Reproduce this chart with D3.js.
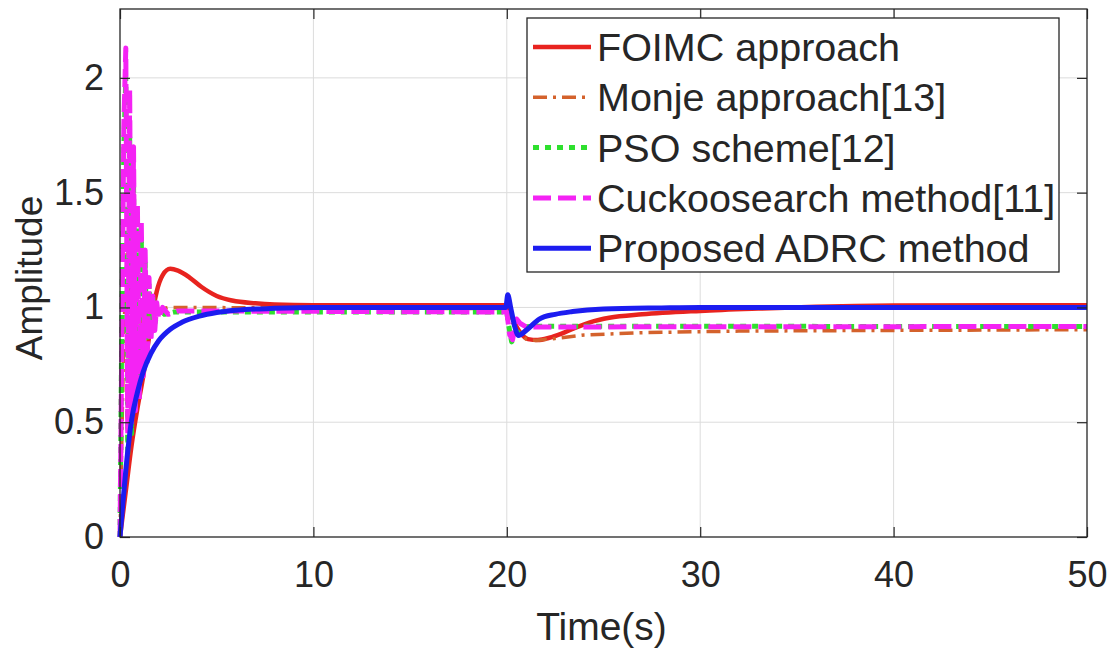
<html>
<script src='https://d3js.org/d3.v7.min.js'></script>
<body style="margin:0;background:#fff" onload='init()'>
<svg width=1114 height=649></svg>
<script>
// axis ticks
var xTicks = [0, 10, 20, 30, 40, 50];
var yTicks = [0, 0.5, 1, 1.5, 2];
var yTickLabels = ["0", "0.5", "1", "1.5", "2"];

var seriesNames = ["FOIMC approach", "Monje approach[13]", "PSO scheme[12]", "Cuckoosearch method[11]", "Proposed ADRC method"];

// [time, amplitude]
var foimc = [[0,0],[0.3,0.2],[0.6,0.4],[0.9,0.56],[1.2,0.7],[1.45,0.84],[1.65,0.96],[1.9,1.07],[2.2,1.14],[2.6,1.168],
    [3.0,1.16],[3.6,1.13],[4.2,1.09],[5,1.05],[5.8,1.03],[7,1.018],[8,1.013],[10,1.01],[20,1.01],[20.3,0.95],[20.7,0.89],
    [21.1,0.862],[21.6,0.858],[22.2,0.868],[22.8,0.885],[23.5,0.91],[24.3,0.935],[25.3,0.955],[27,0.97],[30,0.985],
    [33,0.995],[36,1.003],[40,1.008],[50,1.01]];

var monje = [[0,0],[0.2,0.9],[0.4,1.3],[0.6,0.8],[0.8,1.15],[1.0,0.85],[1.2,1.08],[1.4,0.93],[1.7,1.02],[2.0,0.99],
    [2.5,1.0],[20,0.995],[20.1,0.97],[20.5,0.9],[21,0.862],[21.5,0.856],[22.5,0.865],[24,0.88],[27,0.89],[32,0.897],
    [40,0.9],[50,0.903]];

var pso = [[0,0],[0.1,1.0],[0.2,1.7],[0.3,2.0],[0.4,0.35],[0.5,1.75],[0.6,0.45],[0.7,1.55],[0.8,0.55],[0.9,1.4],
    [1.0,0.65],[1.1,1.3],[1.2,0.72],[1.3,1.2],[1.4,0.8],[1.5,1.1],[1.6,0.88],[1.7,1.05],[1.8,0.93],[2.0,1.0],
    [2.3,0.97],[2.8,0.98],[20,0.98],[20.1,0.92],[20.25,0.85],[20.5,0.88],[20.85,0.915],[21.5,0.918],[50,0.917]];

var cuckoo = [[0,0],[0.1,0.9],[0.2,1.8],[0.3,2.13],[0.4,0.45],[0.5,1.95],[0.6,0.5],[0.7,1.7],[0.8,0.55],[0.9,1.45],
    [1.0,0.6],[1.1,1.38],[1.2,0.7],[1.3,1.25],[1.4,0.75],[1.5,1.13],[1.6,0.85],[1.7,1.05],[1.8,0.9],[1.9,1.02],
    [2.0,0.95],[2.2,1.0],[2.5,0.97],[3,0.985],[20,0.98],[20.15,0.88],[20.3,0.86],[20.5,0.95],[20.7,0.93],[21.0,0.915],
    [50,0.917]];

var adrc = [[0,0],[0.15,0.15],[0.3,0.29],[0.6,0.51],[0.9,0.63],[1.2,0.72],[1.6,0.8],[2.0,0.855],[2.6,0.905],[3.2,0.935],
    [4.1,0.962],[5,0.978],[6,0.988],[8,0.996],[10,1.0],[19.95,1.0],[20.05,1.055],[20.2,1.0],[20.4,0.92],[20.6,0.878],
    [21.0,0.9],[21.7,0.95],[22.5,0.97],[23.4,0.982],[25,0.993],[28,0.998],[30,1.0],[50,1.0]];

async function init() {
    var left = 120, top = 9, width = 967, height = 528;
    var font = "'Liberation Sans', Arial, sans-serif";
    var ink = "#262626";

    var x = d3.scaleLinear().domain([0, 50]).range([0, width]);
    var y = d3.scaleLinear().domain([0, 2.3]).range([height, 0]);

    var svg = d3.select("svg");
    var g = svg.append("g").attr("transform", "translate(" + left + "," + top + ")");

    // grid
    g.selectAll(".gx").data(xTicks.slice(1, -1)).enter().append("line")
        .attr("x1", d => x(d)).attr("x2", d => x(d)).attr("y1", 0).attr("y2", height)
        .attr("stroke", "#dcdcdc").attr("stroke-width", 1);
    g.selectAll(".gy").data(yTicks.slice(1)).enter().append("line")
        .attr("x1", 0).attr("x2", width).attr("y1", d => y(d)).attr("y2", d => y(d))
        .attr("stroke", "#dcdcdc").attr("stroke-width", 1);

    var lines = [
        {data: foimc, color: "#e8231f", w: 4.5, dash: null, curve: d3.curveMonotoneX},
        {data: monje, color: "#d4622c", w: 3.5, dash: "14,6,3,6", curve: d3.curveLinear},
        {data: pso, color: "#2ee02e", w: 5, dash: "6,6", curve: d3.curveLinear},
        {data: cuckoo, color: "#f423f4", w: 5, dash: "18,7", curve: d3.curveLinear},
        {data: adrc, color: "#1c1cf0", w: 5, dash: null, curve: d3.curveMonotoneX}
    ];

    lines.forEach(function(s) {
        g.append("path")
            .datum(s.data)
            .attr("fill", "none")
            .attr("stroke", s.color)
            .attr("stroke-width", s.w)
            .attr("stroke-dasharray", s.dash)
            .attr("stroke-linejoin", "round")
            .attr("d", d3.line().x(d => x(d[0])).y(d => y(d[1])).curve(s.curve));
    });

    // axes, ticks inward on all sides
    var ax = g.append("g").attr("transform", "translate(0," + height + ")")
        .call(d3.axisBottom(x).tickValues(xTicks).tickSizeInner(-10).tickSizeOuter(0).tickPadding(24));
    var ax2 = g.append("g")
        .call(d3.axisTop(x).tickValues(xTicks).tickSizeInner(-10).tickSizeOuter(0).tickFormat(""));
    var ay = g.append("g")
        .call(d3.axisLeft(y).tickValues(yTicks).tickSizeInner(-10).tickSizeOuter(0).tickPadding(16)
            .tickFormat((d, i) => yTickLabels[i]));
    var ay2 = g.append("g").attr("transform", "translate(" + width + ",0)")
        .call(d3.axisRight(y).tickValues(yTicks).tickSizeInner(-10).tickSizeOuter(0).tickFormat(""));

    [ax, ax2, ay, ay2].forEach(function(a) {
        a.select(".domain").remove();
        a.selectAll("line").attr("stroke", ink).attr("stroke-width", 1.2);
        a.selectAll("text").attr("fill", ink).style("font-family", font).style("font-size", "36px");
    });

    g.append("rect").attr("width", width).attr("height", height)
        .attr("fill", "none").attr("stroke", ink).attr("stroke-width", 1.3);

    svg.append("text").attr("x", left + width / 2 - 2).attr("y", 640)
        .attr("text-anchor", "middle").attr("fill", ink)
        .style("font-family", font).style("font-size", "39px").text("Time(s)");
    svg.append("text").attr("transform", "translate(42," + (top + height / 2 + 5) + ") rotate(-90)")
        .attr("text-anchor", "middle").attr("fill", ink)
        .style("font-family", font).style("font-size", "37px").text("Amplitude");

    // legend
    var lg = svg.append("g").attr("transform", "translate(527,18)");
    lg.append("rect").attr("width", 532).attr("height", 254)
        .attr("fill", "#fff").attr("stroke", ink).attr("stroke-width", 1.3);
    lines.forEach(function(s, i) {
        var cy = 29 + i * 50.3;
        lg.append("line").attr("x1", 6).attr("x2", 64).attr("y1", cy).attr("y2", cy)
            .attr("stroke", s.color).attr("stroke-width", s.w).attr("stroke-dasharray", s.dash);
        lg.append("text").attr("x", 70).attr("y", cy + 14).attr("fill", ink)
            .style("font-family", font).style("font-size", "39.5px").text(seriesNames[i]);
    });
}
</script>
</body>
</html>
